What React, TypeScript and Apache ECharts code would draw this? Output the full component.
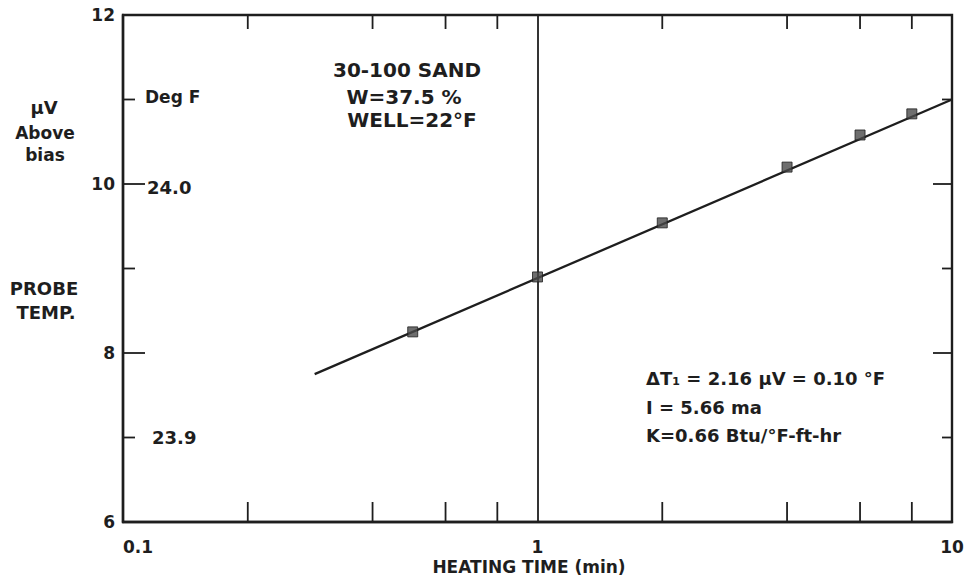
import React, { useEffect, useRef } from "react";
import * as echarts from "echarts";

// Data
const timeMin = [0.5, 1, 2, 4, 6, 8];
const microVolts = [8.25, 8.9, 9.54, 10.2, 10.58, 10.83];
const fitLineX = [0.29, 10];
const fitLineY = [7.75, 11.0];
const xTickLabels = ["0.1", "1", "10"];
const xInnerTicks = [0.2, 0.4, 0.6, 0.8, 2, 4, 6, 8];
const yInnerTicks = [7, 8, 9, 10, 11];
const yMin = 6;
const yMax = 12;
const xMin = 0.1;
const xMax = 10;

const FONT = "DejaVu Sans";
const INK = "#1e1e1e";

export default function App() {
  const ref = useRef<HTMLDivElement>(null);

  useEffect(() => {
    if (!ref.current) return;
    const chart = echarts.init(ref.current, undefined, { renderer: "svg" });

    const txt = (
      text: string,
      x: number,
      y: number,
      size: number,
      align: string = "left"
    ) => ({
      type: "text",
      x,
      y,
      silent: true,
      style: {
        text,
        fontFamily: FONT,
        fontWeight: "bold",
        fontSize: size,
        fill: INK,
        align,
        verticalAlign: "middle",
      },
    });

    chart.setOption({
      animation: false,
      backgroundColor: "#ffffff",
      grid: {
        left: 123,
        right: 22,
        top: 15,
        bottom: 60,
        show: true,
        borderColor: INK,
        borderWidth: 2.4,
        backgroundColor: "transparent",
      },
      xAxis: {
        type: "log",
        logBase: 10,
        min: xMin,
        max: xMax,
        axisLine: { show: true, lineStyle: { color: INK, width: 2.4 } },
        axisTick: { show: false },
        splitLine: { show: true, lineStyle: { color: INK, width: 1.8 } },
        minorTick: { show: false },
        axisLabel: {
          fontFamily: FONT,
          fontWeight: "bold",
          fontSize: 17,
          color: INK,
          margin: 16,
          alignMinLabel: "left",
          formatter: (v: number) => {
            const idx = Math.round(Math.log10(v) + 1);
            return xTickLabels[idx] ?? String(v);
          },
        },
      },
      yAxis: {
        type: "value",
        min: yMin,
        max: yMax,
        interval: 2,
        axisLine: { show: true, lineStyle: { color: INK, width: 2.4 } },
        axisTick: { show: false },
        splitLine: { show: false },
        axisLabel: {
          fontFamily: FONT,
          fontWeight: "bold",
          fontSize: 17,
          color: INK,
          margin: 8,
        },
      },
      series: [
        {
          type: "custom",
          name: "xTicks",
          silent: true,
          data: xInnerTicks.map((v) => [v, yMin]),
          encode: { x: 0, y: 1 },
          renderItem: (params: any, api: any) => {
            const xv = api.value(0);
            const b = api.coord([xv, yMin]);
            const t = api.coord([xv, yMax]);
            return {
              type: "group",
              children: [
                {
                  type: "line",
                  shape: { x1: b[0], y1: b[1], x2: b[0], y2: b[1] - 20 },
                  style: { stroke: INK, lineWidth: 1.8 },
                },
                {
                  type: "line",
                  shape: { x1: t[0], y1: t[1], x2: t[0], y2: t[1] + 14 },
                  style: { stroke: INK, lineWidth: 1.8 },
                },
              ],
            };
          },
        },
        {
          type: "custom",
          name: "yTicks",
          silent: true,
          data: yInnerTicks.map((v) => [xMin, v]),
          encode: { x: 0, y: 1 },
          renderItem: (params: any, api: any) => {
            const yv = api.value(1);
            const major = yv % 2 === 0;
            const l = api.coord([xMin, yv]);
            const r = api.coord([xMax, yv]);
            return {
              type: "group",
              children: [
                {
                  type: "line",
                  shape: { x1: l[0], y1: l[1], x2: l[0] + (major ? 22 : 12), y2: l[1] },
                  style: { stroke: INK, lineWidth: 1.8 },
                },
                {
                  type: "line",
                  shape: { x1: r[0], y1: r[1], x2: r[0] - (major ? 19 : 10), y2: r[1] },
                  style: { stroke: INK, lineWidth: 1.8 },
                },
              ],
            };
          },
        },
        {
          type: "line",
          name: "fit",
          data: fitLineX.map((x, i) => [x, fitLineY[i]]),
          showSymbol: false,
          symbol: "none",
          lineStyle: { color: INK, width: 2.3 },
          silent: true,
          z: 3,
        },
        {
          type: "scatter",
          name: "probe",
          data: timeMin.map((x, i) => [x, microVolts[i]]),
          symbol: "rect",
          symbolSize: 10,
          itemStyle: { color: "#4a4a4a", borderColor: INK, borderWidth: 1 },
          z: 4,
        },
      ],
      graphic: [
        txt("HEATING TIME (min)", 529, 567, 17, "center"),
        txt("μV", 44, 107, 18, "center"),
        txt("Above", 45, 133, 17, "center"),
        txt("bias", 45, 155, 17, "center"),
        txt("PROBE", 44, 288, 18, "center"),
        txt("TEMP.", 46, 312, 18, "center"),
        txt("Deg F", 145, 97, 17),
        txt("24.0", 147, 187, 18),
        txt("23.9", 152, 437, 18),
        txt("30-100 SAND", 407, 70, 20, "center"),
        txt("W=37.5 %", 404, 97, 20, "center"),
        txt("WELL=22°F", 412, 120, 20, "center"),
        txt("ΔT₁ = 2.16 μV = 0.10 °F", 646, 378, 18),
        txt("I = 5.66 ma", 646, 407, 18),
        txt("K=0.66 Btu/°F-ft-hr", 646, 435, 18),
      ],
    });

    return () => chart.dispose();
  }, []);

  return (
    <div
      ref={ref}
      style={{ position: "fixed", left: 0, top: 0, width: 974, height: 582 }}
    />
  );
}
